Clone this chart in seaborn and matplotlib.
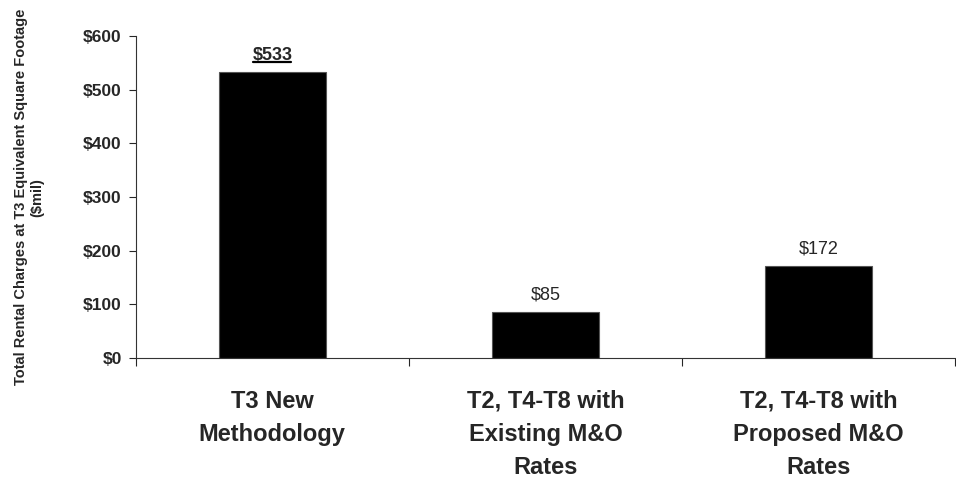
import matplotlib
matplotlib.use('Agg')
import matplotlib.pyplot as plt
import seaborn as sns
import pandas as pd

categories = ['T3 New\nMethodology',
              'T2, T4-T8 with\nExisting M&O\nRates',
              'T2, T4-T8 with\nProposed M&O\nRates']
values = [533, 85, 172]
value_labels = ['$533', '$85', '$172']
y_ticks = [0, 100, 200, 300, 400, 500, 600]
y_label = 'Total Rental Charges at T3 Equivalent Square Footage\n($mil)'

sns.set_style('white')
plt.rcParams['font.family'] = ['Liberation Sans', 'DejaVu Sans']

df = pd.DataFrame({'cat': categories, 'val': values})

fig = plt.figure(figsize=(9.56, 4.83), dpi=100)
ax = fig.add_axes([0.142, 0.259, 0.857, 0.666])
sns.barplot(data=df, x='cat', y='val', color='black', saturation=1,
            width=0.39, edgecolor='#555555', linewidth=0.8, ax=ax)

ax.set_xlim(-0.5, 2.5)
ax.set_ylim(0, 600)
ax.set_yticks(y_ticks)
ax.set_yticklabels(['$' + str(t) for t in y_ticks], fontsize=12.5, fontweight='bold')
ax.tick_params(axis='y', direction='out', length=5, width=0.8, pad=5, left=True)

# category boundaries get the ticks, labels sit in between
ax.set_xticks([-0.5, 0.5, 1.5, 2.5])
ax.set_xticklabels([])
ax.tick_params(axis='x', which='major', direction='out', length=6, width=0.8, bottom=True)
ax.set_xticks([0, 1, 2], minor=True)
ax.set_xticklabels(categories, minor=True, fontsize=17, fontweight='bold', linespacing=1.55)
ax.tick_params(axis='x', which='minor', length=0, pad=23)

ax.set_xlabel('')
ax.set_ylabel(y_label, fontsize=10.5, fontweight='bold', labelpad=28)

for side in ['top', 'right']:
    ax.spines[side].set_visible(False)
for side in ['left', 'bottom']:
    ax.spines[side].set_color('#333333')
    ax.spines[side].set_linewidth(0.8)

texts = []
for i, (v, lab) in enumerate(zip(values, value_labels)):
    t = ax.annotate(lab, (i, v), xytext=(0, 6), textcoords='offset points',
                    ha='center', va='bottom', fontsize=13,
                    fontweight='bold' if i == 0 else 'normal')
    texts.append(t)

# underline the first value label
fig.canvas.draw()
bb = texts[0].get_window_extent().transformed(fig.transFigure.inverted())
fig.add_artist(plt.Line2D([bb.x0 + 0.001, bb.x1 - 0.001], [bb.y0 + 0.004, bb.y0 + 0.004],
                          transform=fig.transFigure, color='black', linewidth=1.6))

fig.savefig('out.png', dpi=100)
